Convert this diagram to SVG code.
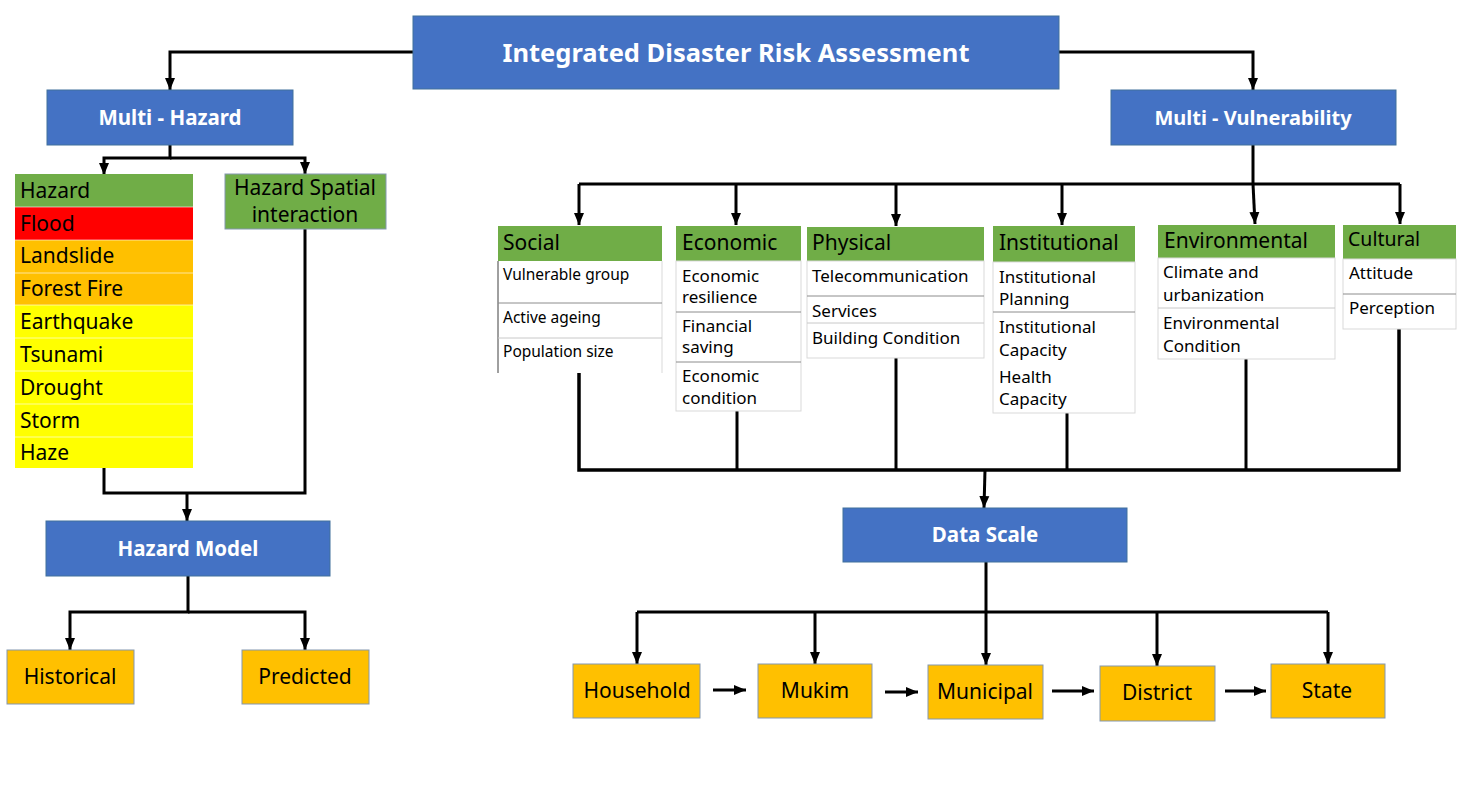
<svg xmlns="http://www.w3.org/2000/svg" width="1472" height="811" viewBox="0 0 1472 811">
<defs>
<marker id="arr" markerUnits="userSpaceOnUse" markerWidth="12" markerHeight="12" viewBox="0 0 12 12" refX="12" refY="6" orient="auto">
<path d="M0,1 L12,6 L0,11 Z" fill="#000"/>
</marker>
<style>
.blue{fill:#4472C4;stroke:#41719C;stroke-width:1}
.bt{font-family:"Noto Sans","Open Sans","Liberation Sans",sans-serif;font-weight:bold;fill:#fff;text-anchor:middle}
.t{font-family:"Noto Sans","Open Sans","Liberation Sans",sans-serif;fill:#000}
.t21{font-size:21px}
.t17{font-size:17px}
.t15{font-size:15.5px}
.mid{text-anchor:middle}
.green{fill:#70AD47}
.org{fill:#FFC000;stroke:#8497B0;stroke-width:1}
.body{fill:#fff;stroke:#d9d9d9;stroke-width:1}
.sep{stroke:#8c8c8c;stroke-width:1}
.wsep{stroke:#fff;stroke-width:1;stroke-opacity:0.6}
.c{fill:none;stroke:#000;stroke-width:3}
.ca{fill:none;stroke:#000;stroke-width:3;marker-end:url(#arr)}
</style>
</defs>
<rect width="1472" height="811" fill="#fff"/>

<g id="connectors">
<path class="ca" d="M413,52 H170 V90"/>
<path class="ca" d="M1059,52 H1253 V90"/>
<path class="ca" d="M170,145 V158 H104 V175"/>
<path class="ca" d="M170,158 H305 V174"/>
<path class="c" d="M104,468 V493 H305 V229"/>
<path class="ca" d="M187,493 V521"/>
<path class="ca" d="M188,576 V612 H70 V650"/>
<path class="ca" d="M188,612 H305 V650"/>
<path class="c" d="M1253,145 V184"/>
<path class="c" d="M579,184 H1400"/>
<path class="ca" d="M579,184 V225"/>
<path class="ca" d="M736,184 V225"/>
<path class="ca" d="M896,184 V226"/>
<path class="ca" d="M1062,184 V225"/>
<path class="ca" d="M1253,184 L1255,224"/>
<path class="ca" d="M1400,184 V224"/>
<path class="c" style="stroke-width:3.5" d="M579,373 V470 H1399 V329"/>
<path class="c" d="M737,411 V470"/>
<path class="c" d="M896,358 V470"/>
<path class="c" d="M1067,413 V470"/>
<path class="c" d="M1246,359 V470"/>
<path class="ca" d="M985,470 L984,508"/>
<path class="ca" d="M986,562 V665"/>
<path class="c" d="M637,612 H1328"/>
<path class="ca" d="M637,612 V664"/>
<path class="ca" d="M815,612 V664"/>
<path class="ca" d="M1157,612 V666"/>
<path class="ca" d="M1328,612 V664"/>
<path class="ca" d="M713,690 H746"/>
<path class="ca" d="M885,692 H918"/>
<path class="ca" d="M1052,691 H1094"/>
<path class="ca" d="M1225,691 H1266"/>
</g>

<g id="title">
<rect class="blue" x="413" y="16" width="646" height="73"/>
<text class="bt" x="736" y="62" font-size="25.5">Integrated Disaster Risk Assessment</text>
</g>

<g id="multi-hazard">
<rect class="blue" x="47" y="90" width="246" height="55"/>
<text class="bt" x="170" y="125" font-size="20.5">Multi - Hazard</text>
</g>

<g id="multi-vulnerability">
<rect class="blue" x="1111" y="90" width="285" height="55"/>
<text class="bt" x="1253" y="125" font-size="20">Multi - Vulnerability</text>
</g>

<g id="hazard-list">
<rect class="green" x="15" y="174" width="178" height="33"/>
<rect fill="#FF0000" x="15" y="207" width="178" height="33"/>
<rect fill="#FFC000" x="15" y="240" width="178" height="65"/>
<rect fill="#FFFF00" x="15" y="305" width="178" height="163"/>
<line class="wsep" x1="15" y1="207" x2="193" y2="207"/>
<line class="wsep" x1="15" y1="240" x2="193" y2="240"/>
<line class="wsep" x1="15" y1="273" x2="193" y2="273"/>
<line class="wsep" x1="15" y1="305" x2="193" y2="305"/>
<line class="wsep" x1="15" y1="338" x2="193" y2="338"/>
<line class="wsep" x1="15" y1="371" x2="193" y2="371"/>
<line class="wsep" x1="15" y1="404" x2="193" y2="404"/>
<line class="wsep" x1="15" y1="437" x2="193" y2="437"/>
<text class="t t21" x="20" y="198">Hazard</text>
<text class="t t21" x="20" y="231">Flood</text>
<text class="t t21" x="20" y="263">Landslide</text>
<text class="t t21" x="20" y="296">Forest Fire</text>
<text class="t t21" x="20" y="329">Earthquake</text>
<text class="t t21" x="20" y="362">Tsunami</text>
<text class="t t21" x="20" y="395">Drought</text>
<text class="t t21" x="20" y="428">Storm</text>
<text class="t t21" x="20" y="460">Haze</text>
</g>

<g id="hazard-spatial">
<rect class="green" x="225" y="174" width="161" height="55" stroke="#8497B0" stroke-width="1"/>
<text class="t t21 mid" x="305" y="195">Hazard Spatial</text>
<text class="t t21 mid" x="305" y="222">interaction</text>
</g>

<g id="hazard-model">
<rect class="blue" x="46" y="521" width="284" height="55"/>
<text class="bt" x="188" y="556" font-size="20.5">Hazard Model</text>
</g>

<g id="historical">
<rect class="org" x="7" y="650" width="127" height="54"/>
<text class="t t21 mid" x="70" y="684">Historical</text>
</g>
<g id="predicted">
<rect class="org" x="242" y="650" width="127" height="54"/>
<text class="t t21 mid" x="305" y="684">Predicted</text>
</g>

<g id="social">
<rect class="green" x="498" y="226" width="164" height="35"/>
<text class="t t21" x="503" y="250">Social</text>
<rect fill="#fff" x="498" y="261" width="164" height="112"/>
<line stroke="#d9d9d9" x1="662" y1="261" x2="662" y2="373"/>
<line stroke="#404040" x1="498" y1="261" x2="498" y2="373"/>
<line class="sep" x1="498" y1="303" x2="662" y2="303"/>
<line stroke="#c8c8c8" x1="498" y1="338" x2="662" y2="338"/>
<text class="t t15" x="503" y="280">Vulnerable group</text>
<text class="t t15" x="503" y="323">Active ageing</text>
<text class="t t15" x="503" y="357">Population size</text>
</g>

<g id="economic">
<rect class="green" x="676" y="226" width="125" height="35"/>
<text class="t t21" x="682" y="250">Economic</text>
<rect class="body" x="676" y="261" width="125" height="150"/>
<line class="sep" x1="676" y1="312" x2="801" y2="312"/>
<line class="sep" x1="676" y1="362" x2="801" y2="362"/>
<text class="t t17" x="682" y="282">Economic</text>
<text class="t t17" x="682" y="303">resilience</text>
<text class="t t17" x="682" y="332">Financial</text>
<text class="t t17" x="682" y="353">saving</text>
<text class="t t17" x="682" y="382">Economic</text>
<text class="t t17" x="682" y="404">condition</text>
</g>

<g id="physical">
<rect class="green" x="807" y="227" width="177" height="34"/>
<text class="t t21" x="812" y="250">Physical</text>
<rect class="body" x="807" y="261" width="177" height="97"/>
<line class="sep" x1="807" y1="296" x2="984" y2="296"/>
<line stroke="#c8c8c8" x1="807" y1="323" x2="984" y2="323"/>
<text class="t t17" x="812" y="282">Telecommunication</text>
<text class="t t17" x="812" y="317">Services</text>
<text class="t t17" x="812" y="344">Building Condition</text>
</g>

<g id="institutional">
<rect class="green" x="993" y="226" width="142" height="36"/>
<text class="t t21" x="999" y="250">Institutional</text>
<rect class="body" x="993" y="262" width="142" height="151"/>
<line class="sep" x1="993" y1="312" x2="1135" y2="312"/>
<text class="t t17" x="999" y="283">Institutional</text>
<text class="t t17" x="999" y="305">Planning</text>
<text class="t t17" x="999" y="333">Institutional</text>
<text class="t t17" x="999" y="356">Capacity</text>
<text class="t t17" x="999" y="383">Health</text>
<text class="t t17" x="999" y="405">Capacity</text>
</g>

<g id="environmental">
<rect class="green" x="1158" y="225" width="177" height="33"/>
<text class="t t21" x="1164" y="248">Environmental</text>
<rect class="body" x="1158" y="258" width="177" height="101"/>
<line stroke="#c8c8c8" x1="1158" y1="308" x2="1335" y2="308"/>
<text class="t t17" x="1163" y="278">Climate and</text>
<text class="t t17" x="1163" y="301">urbanization</text>
<text class="t t17" x="1163" y="329">Environmental</text>
<text class="t t17" x="1163" y="352">Condition</text>
</g>

<g id="cultural">
<rect class="green" x="1343" y="225" width="113" height="34"/>
<text class="t" font-size="19.5" x="1348" y="246">Cultural</text>
<rect class="body" x="1343" y="259" width="113" height="70"/>
<line class="sep" x1="1343" y1="294" x2="1456" y2="294"/>
<text class="t t17" x="1349" y="279">Attitude</text>
<text class="t t17" x="1349" y="314">Perception</text>
</g>

<g id="data-scale">
<rect class="blue" x="843" y="508" width="284" height="54"/>
<text class="bt" x="985" y="542" font-size="20.5">Data Scale</text>
</g>

<g id="household">
<rect class="org" x="573" y="664" width="127" height="54"/>
<text class="t t21 mid" x="637" y="698">Household</text>
</g>
<g id="mukim">
<rect class="org" x="758" y="664" width="114" height="54"/>
<text class="t t21 mid" x="815" y="698">Mukim</text>
</g>
<g id="municipal">
<rect class="org" x="928" y="665" width="115" height="54"/>
<text class="t t21 mid" x="985" y="699">Municipal</text>
</g>
<g id="district">
<rect class="org" x="1100" y="666" width="115" height="55"/>
<text class="t t21 mid" x="1157" y="700">District</text>
</g>
<g id="state">
<rect class="org" x="1271" y="664" width="114" height="54"/>
<text class="t t21 mid" x="1327" y="698">State</text>
</g>
</svg>
